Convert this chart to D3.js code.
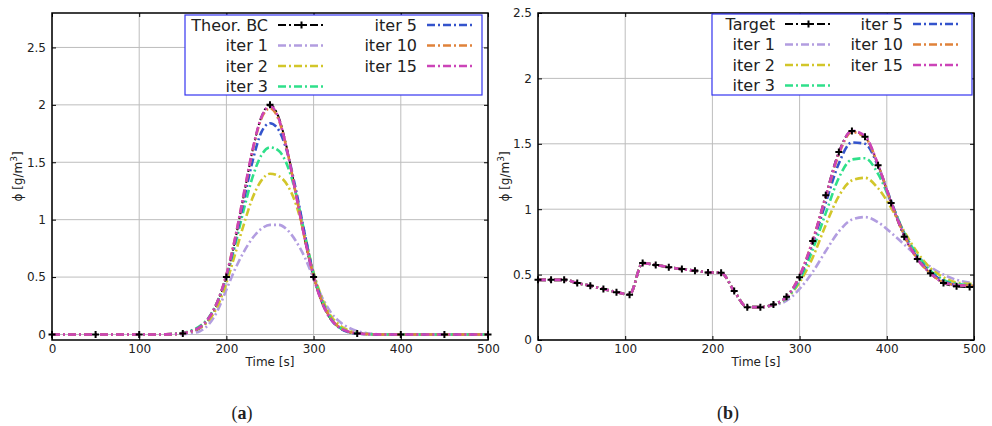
<!DOCTYPE html>
<html>
<head>
<meta charset="utf-8">
<script src="https://cdn.jsdelivr.net/npm/d3@7"></script>
<style>
  body { margin: 0; background: #fff; }
  svg text { font-family: "DejaVu Sans", sans-serif; fill: #222; }
</style>
</head>
<body>
<div id="chart"></div>
<script>
// ---- data: panel (a), sampled every 10 s ----
const timeA = [0, 10, 20, 30, 40, 50, 60, 70, 80, 90, 100, 110, 120, 130, 140, 150, 160, 170, 180, 190,
  200, 210, 220, 230, 240, 250, 260, 270, 280, 290, 300, 310, 320, 330, 340, 350, 360, 370, 380, 390,
  400, 410, 420, 430, 440, 450, 460, 470, 480, 490, 500];
const targetA = [0, 0, 0, 0, 0, 0, 0, 0, 0, 0, 0, 0, 0, 0.001, 0.002, 0.008, 0.022, 0.057, 0.131, 0.271,
  0.5, 0.822, 1.213, 1.602, 1.892, 2.0, 1.892, 1.602, 1.213, 0.822, 0.5, 0.271, 0.131, 0.057, 0.022, 0.008, 0.002, 0.001, 0, 0,
  0, 0, 0, 0, 0, 0, 0, 0, 0, 0, 0];
const iter1A = [0, 0, 0, 0, 0, 0, 0, 0, 0, 0, 0, 0, 0, 0, 0.001, 0.003, 0.01, 0.03, 0.09, 0.21,
  0.39, 0.57, 0.72, 0.84, 0.92, 0.955, 0.955, 0.91, 0.81, 0.67, 0.49, 0.32, 0.19, 0.11, 0.06, 0.03, 0.012, 0.004, 0, 0,
  0, 0, 0, 0, 0, 0, 0, 0, 0, 0, 0];
const iter2A = [0, 0, 0, 0, 0, 0, 0, 0, 0, 0, 0, 0, 0, 0.001, 0.004, 0.011, 0.027, 0.06, 0.125, 0.25,
  0.45, 0.70, 0.96, 1.19, 1.34, 1.40, 1.38, 1.30, 1.13, 0.85, 0.54, 0.31, 0.16, 0.08, 0.035, 0.014, 0.005, 0.002, 0, 0,
  0, 0, 0, 0, 0, 0, 0, 0, 0, 0, 0];
const iter3A = [0, 0, 0, 0, 0, 0, 0, 0, 0, 0, 0, 0, 0, 0.002, 0.006, 0.015, 0.035, 0.075, 0.15, 0.29,
  0.50, 0.78, 1.09, 1.37, 1.56, 1.63, 1.60, 1.47, 1.22, 0.87, 0.53, 0.29, 0.14, 0.06, 0.025, 0.01, 0.004, 0.001, 0, 0,
  0, 0, 0, 0, 0, 0, 0, 0, 0, 0, 0];
const iter5A = [0, 0, 0, 0, 0, 0, 0, 0, 0, 0, 0, 0, 0, 0.001, 0.004, 0.012, 0.03, 0.068, 0.145, 0.29,
  0.51, 0.81, 1.17, 1.51, 1.76, 1.84, 1.78, 1.58, 1.25, 0.87, 0.52, 0.28, 0.13, 0.055, 0.02, 0.008, 0.003, 0.001, 0, 0,
  0, 0, 0, 0, 0, 0, 0, 0, 0, 0, 0];
const iter10A = [0, 0, 0, 0, 0, 0, 0, 0, 0, 0, 0, 0, 0, 0.001, 0.004, 0.011, 0.028, 0.065, 0.143, 0.29,
  0.52, 0.84, 1.22, 1.60, 1.88, 1.97, 1.87, 1.59, 1.21, 0.83, 0.51, 0.28, 0.14, 0.06, 0.025, 0.01, 0.004, 0.001, 0, 0,
  0, 0, 0, 0, 0, 0, 0, 0, 0, 0, 0];
const iter15A = [0, 0, 0, 0, 0, 0, 0, 0, 0, 0, 0, 0, 0, 0.001, 0.004, 0.011, 0.028, 0.066, 0.145, 0.29,
  0.52, 0.84, 1.23, 1.61, 1.89, 1.99, 1.88, 1.59, 1.21, 0.83, 0.50, 0.27, 0.13, 0.06, 0.025, 0.01, 0.004, 0.001, 0, 0,
  0, 0, 0, 0, 0, 0, 0, 0, 0, 0, 0];

// ---- data: panel (b), sampled every 15 s ----
const timeB = [0, 15, 30, 45, 60, 75, 90, 105, 120, 135, 150, 165, 180, 195, 210, 225, 240, 255, 270, 285,
  300, 315, 330, 345, 360, 375, 390, 405, 420, 435, 450, 465, 480, 495, 500];
const targetB = [0.46, 0.46, 0.46, 0.435, 0.415, 0.39, 0.366, 0.346, 0.588, 0.573, 0.557, 0.542, 0.53, 0.517, 0.514, 0.374, 0.251, 0.251, 0.272, 0.33,
  0.48, 0.757, 1.106, 1.438, 1.597, 1.553, 1.336, 1.048, 0.79, 0.62, 0.51, 0.435, 0.41, 0.405, 0.405];
const iter1B = [0.46, 0.46, 0.46, 0.435, 0.415, 0.39, 0.366, 0.346, 0.588, 0.573, 0.557, 0.542, 0.53, 0.517, 0.514, 0.374, 0.251, 0.251, 0.265, 0.30,
  0.39, 0.52, 0.68, 0.83, 0.92, 0.94, 0.90, 0.82, 0.73, 0.64, 0.56, 0.50, 0.46, 0.44, 0.44];
const iter2B = [0.46, 0.46, 0.46, 0.435, 0.415, 0.39, 0.366, 0.346, 0.588, 0.573, 0.557, 0.542, 0.53, 0.517, 0.514, 0.374, 0.251, 0.251, 0.27, 0.32,
  0.44, 0.63, 0.88, 1.10, 1.22, 1.24, 1.16, 1.01, 0.83, 0.67, 0.55, 0.48, 0.44, 0.43, 0.43];
const iter3B = [0.46, 0.46, 0.46, 0.435, 0.415, 0.39, 0.366, 0.346, 0.588, 0.573, 0.557, 0.542, 0.53, 0.517, 0.514, 0.374, 0.251, 0.251, 0.272, 0.32,
  0.46, 0.69, 0.97, 1.24, 1.38, 1.39, 1.27, 1.05, 0.82, 0.65, 0.53, 0.46, 0.43, 0.42, 0.42];
const iter5B = [0.46, 0.46, 0.46, 0.435, 0.415, 0.39, 0.366, 0.346, 0.588, 0.573, 0.557, 0.542, 0.53, 0.517, 0.514, 0.374, 0.251, 0.251, 0.272, 0.33,
  0.48, 0.74, 1.05, 1.35, 1.51, 1.50, 1.33, 1.06, 0.81, 0.63, 0.52, 0.45, 0.42, 0.415, 0.415];
const iter10B = [0.46, 0.46, 0.46, 0.435, 0.415, 0.39, 0.366, 0.346, 0.588, 0.573, 0.557, 0.542, 0.53, 0.517, 0.514, 0.374, 0.251, 0.251, 0.272, 0.33,
  0.49, 0.76, 1.09, 1.42, 1.59, 1.55, 1.34, 1.05, 0.80, 0.62, 0.51, 0.44, 0.42, 0.415, 0.415];
const iter15B = [0.46, 0.46, 0.46, 0.435, 0.415, 0.39, 0.366, 0.346, 0.588, 0.573, 0.557, 0.542, 0.53, 0.517, 0.514, 0.374, 0.251, 0.251, 0.272, 0.33,
  0.49, 0.76, 1.10, 1.43, 1.60, 1.56, 1.34, 1.05, 0.80, 0.62, 0.51, 0.44, 0.42, 0.415, 0.415];

const xTicks = [0, 100, 200, 300, 400, 500];
const yTicks = [0, 0.5, 1, 1.5, 2, 2.5];
const iterNames = ['iter 1', 'iter 2', 'iter 3', 'iter 5', 'iter 10', 'iter 15'];
const iterColors = ['#b29de0', '#d2c62a', '#2fe08a', '#3454cc', '#e0823a', '#cc44b8'];

const dash = '8,3,2,3';
const svg = d3.select('#chart').append('svg')
  .attr('width', 992)
  .attr('height', 426);

function drawPanel(p) {
  const x = d3.scaleLinear().domain([0, 500]).range([p.left, p.right]);
  const y = d3.scaleLinear().domain(p.yDomain).range([p.bottom, p.top]);
  const g = svg.append('g');

  // grid
  g.append('g').selectAll('line').data(xTicks).join('line')
    .attr('x1', d => x(d)).attr('x2', d => x(d))
    .attr('y1', p.top).attr('y2', p.bottom)
    .attr('stroke', '#bdbdbd').attr('stroke-width', 1);
  g.append('g').selectAll('line').data(yTicks).join('line')
    .attr('x1', p.left).attr('x2', p.right)
    .attr('y1', d => y(d)).attr('y2', d => y(d))
    .attr('stroke', '#bdbdbd').attr('stroke-width', 1);

  // axes (ticks pointing inside)
  const fmt = d => String(d);
  const ax = [
    g.append('g').attr('transform', `translate(0,${p.bottom})`)
      .call(d3.axisBottom(x).tickValues(xTicks).tickFormat(fmt).tickSize(-4).tickPadding(4)),
    g.append('g').attr('transform', `translate(0,${p.top})`)
      .call(d3.axisTop(x).tickValues(xTicks).tickFormat('').tickSize(-4)),
    g.append('g').attr('transform', `translate(${p.left},0)`)
      .call(d3.axisLeft(y).tickValues(yTicks).tickFormat(fmt).tickSize(-4).tickPadding(6)),
    g.append('g').attr('transform', `translate(${p.right},0)`)
      .call(d3.axisRight(y).tickValues(yTicks).tickFormat('').tickSize(-4))
  ];
  ax.forEach(a => {
    a.select('.domain').remove();
    a.selectAll('text').style('font-size', '12px').style('font-family', '"DejaVu Sans", sans-serif').attr('fill', '#222');
    a.selectAll('line').attr('stroke', '#000');
  });

  // lines
  const line = d3.line()
    .x((d, i) => x(p.time[i]))
    .y(d => y(d))
    .curve(d3.curveMonotoneX);

  const clipId = 'clip' + p.id;
  svg.append('clipPath').attr('id', clipId)
    .append('rect').attr('x', p.left).attr('y', p.top)
    .attr('width', p.right - p.left).attr('height', p.bottom - p.top);
  const plot = g.append('g').attr('clip-path', `url(#${clipId})`);

  plot.append('path')
    .attr('d', line(p.target))
    .attr('fill', 'none').attr('stroke', '#000')
    .attr('stroke-width', 2).attr('stroke-dasharray', dash);

  p.iters.forEach((vals, k) => {
    plot.append('path')
      .attr('d', line(vals))
      .attr('fill', 'none').attr('stroke', iterColors[k])
      .attr('stroke-width', 2.6).attr('stroke-dasharray', dash);
  });

  // markers on the target
  const marks = p.time.map((t, i) => ({ t: t, v: p.target[i] }))
    .filter(d => d.t % p.markEvery === 0);
  g.append('g').selectAll('path').data(marks).join('path')
    .attr('transform', d => `translate(${x(d.t)},${y(d.v)})`)
    .attr('d', 'M-3.5,0H3.5M0,-3.5V3.5')
    .attr('stroke', '#000').attr('stroke-width', 2);

  // frame
  g.append('rect')
    .attr('x', p.left).attr('y', p.top)
    .attr('width', p.right - p.left).attr('height', p.bottom - p.top)
    .attr('fill', 'none').attr('stroke', '#000').attr('stroke-width', 1.5);

  // axis titles
  g.append('text')
    .attr('x', (p.left + p.right) / 2).attr('y', p.bottom + 26)
    .attr('text-anchor', 'middle').style('font-size', '12px')
    .text('Time [s]');
  const yl = g.append('text')
    .attr('transform', `translate(${p.ylabelX},${(p.top + p.bottom) / 2}) rotate(-90)`)
    .attr('text-anchor', 'middle').style('font-size', '12px');
  yl.append('tspan').text('ϕ [g/m');
  yl.append('tspan').attr('dy', -5).style('font-size', '9px').text('3');
  yl.append('tspan').attr('dy', 5).text(']');

  // legend
  const L = p.legend;
  const lg = g.append('g');
  lg.append('rect')
    .attr('x', L.x).attr('y', L.y).attr('width', L.w).attr('height', L.h)
    .attr('fill', '#fff').attr('stroke', '#3535f0').attr('stroke-width', 1.2);
  const entries = [{ name: p.targetName, color: '#000', target: true }]
    .concat(iterNames.map((n, k) => ({ name: n, color: iterColors[k] })));
  entries.forEach((e, i) => {
    const col = i < 4 ? 0 : 1;
    const row = i < 4 ? i : i - 4;
    const ty = L.y + 10 + row * 20.5;
    const tx = L.textEnd[col];
    lg.append('text')
      .attr('x', tx).attr('y', ty).attr('dy', '0.36em')
      .attr('text-anchor', 'end').style('font-size', '16px')
      .text(e.name);
    lg.append('line')
      .attr('x1', tx + 10).attr('x2', tx + 57)
      .attr('y1', ty).attr('y2', ty)
      .attr('stroke', e.color).attr('stroke-width', e.target ? 2 : 2.6)
      .attr('stroke-dasharray', dash);
    if (e.target) {
      lg.append('path')
        .attr('transform', `translate(${tx + 33.5},${ty})`)
        .attr('d', 'M-3.5,0H3.5M0,-3.5V3.5')
        .attr('stroke', '#000').attr('stroke-width', 2);
    }
  });

  // caption
  const cap = svg.append('text')
    .attr('x', (p.left + p.right) / 2 - 28).attr('y', 419)
    .attr('text-anchor', 'middle')
    .style('font-family', '"Liberation Serif", serif').style('font-size', '18px');
  cap.append('tspan').text('(');
  cap.append('tspan').style('font-weight', 'bold').text(p.caption);
  cap.append('tspan').text(')');
}

drawPanel({
  id: 'a', left: 52, right: 488, top: 13, bottom: 340, yDomain: [-0.048, 2.8],
  time: timeA, target: targetA, iters: [iter1A, iter2A, iter3A, iter5A, iter10A, iter15A],
  markEvery: 50, targetName: 'Theor. BC', ylabelX: 22, caption: 'a',
  legend: { x: 185, y: 15, w: 297, h: 80, textEnd: [268, 417] }
});
drawPanel({
  id: 'b', left: 538, right: 974, top: 13, bottom: 340, yDomain: [0, 2.5],
  time: timeB, target: targetB, iters: [iter1B, iter2B, iter3B, iter5B, iter10B, iter15B],
  markEvery: 15, targetName: 'Target', ylabelX: 509, caption: 'b',
  legend: { x: 712, y: 14, w: 260, h: 81, textEnd: [775, 903] }
});
</script>
</body>
</html>
